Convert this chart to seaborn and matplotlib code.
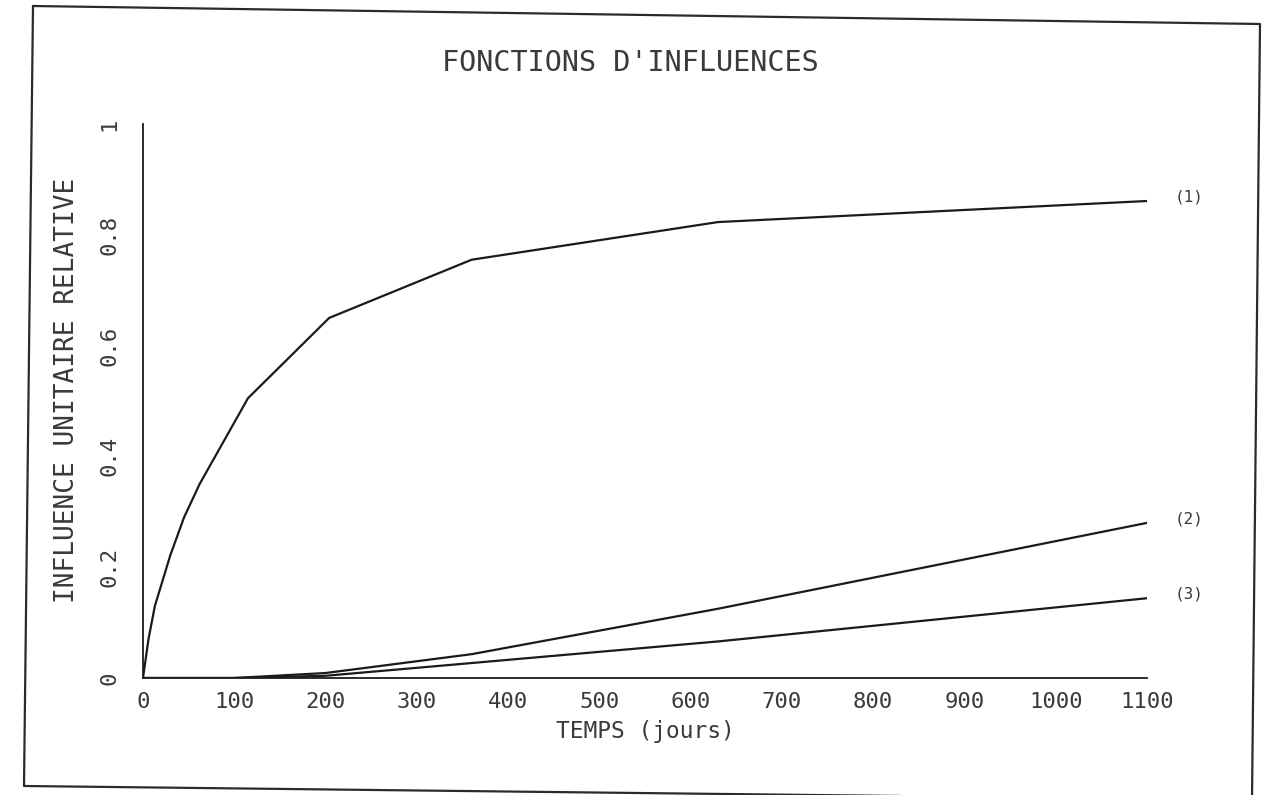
import numpy as np
import pandas as pd
import matplotlib
matplotlib.use("Agg")
import matplotlib.pyplot as plt
from matplotlib.lines import Line2D
import seaborn as sns

# Influence functions (relative unit influence vs. time in days)
jours_1 = [0, 6, 13, 30, 45, 62, 115, 204, 360, 630, 1100]
influence_1 = [0.0, 0.07, 0.13, 0.222, 0.29, 0.35, 0.505, 0.65, 0.755, 0.823, 0.861]

jours_2 = [0, 100, 200, 360, 630, 1100]
influence_2 = [0.0, 0.0, 0.009, 0.043, 0.125, 0.28]

jours_3 = [0, 100, 200, 360, 630, 1100]
influence_3 = [0.0, 0.0, 0.004, 0.027, 0.066, 0.144]

noms_courbes = ["(1)", "(2)", "(3)"]

x_ticks = [0, 100, 200, 300, 400, 500, 600, 700, 800, 900, 1000, 1100]
y_ticks = [0, 0.2, 0.4, 0.6, 0.8, 1]
y_tick_labels = ["0", "0.2", "0.4", "0.6", "0.8", "1"]

sns.set_theme(style="white")
plt.rcParams["font.family"] = ["DejaVu Sans Mono", "DejaVu Sans"]

W, H = 1262, 795
fig = plt.figure(figsize=(W / 100, H / 100), dpi=100)
fig.patch.set_facecolor("white")

ax_left, ax_right, ax_top, ax_bottom = 143, 1147, 124, 678
ax = fig.add_axes([ax_left / W, 1 - ax_bottom / H,
                   (ax_right - ax_left) / W, (ax_bottom - ax_top) / H])

df = pd.concat([
    pd.DataFrame({"jours": jours_1, "influence": influence_1, "courbe": noms_courbes[0]}),
    pd.DataFrame({"jours": jours_2, "influence": influence_2, "courbe": noms_courbes[1]}),
    pd.DataFrame({"jours": jours_3, "influence": influence_3, "courbe": noms_courbes[2]}),
])

ink = "#1a1a1a"
text_ink = "#3a3a3a"
for nom, grp in df.groupby("courbe", sort=False):
    sns.lineplot(data=grp, x="jours", y="influence", color=ink, linewidth=1.6,
                 ax=ax, legend=False, sort=False)
    ax.annotate(nom, xy=(grp["jours"].iloc[-1], grp["influence"].iloc[-1]),
                xytext=(20, 3), textcoords="offset points",
                ha="left", va="center", fontsize=11.5, color=text_ink)

ax.set_xlim(0, 1100)
ax.set_ylim(0, 1)
ax.set_xticks(x_ticks)
ax.set_xticklabels([str(v) for v in x_ticks])
ax.set_yticks(y_ticks)
ax.set_yticklabels(y_tick_labels, rotation=90, va="center")

for side in ["top", "right"]:
    ax.spines[side].set_visible(False)
for side in ["left", "bottom"]:
    ax.spines[side].set_color(ink)
    ax.spines[side].set_linewidth(1.3)

ax.tick_params(axis="both", direction="in", length=4, width=1.2, color=ink,
               labelsize=16, labelcolor=text_ink)
ax.tick_params(axis="x", pad=10)
ax.tick_params(axis="y", pad=17)
ax.set_facecolor("white")

ax.set_xlabel("TEMPS (jours)", fontsize=16.5, color=text_ink, labelpad=6)
ax.set_ylabel("INFLUENCE UNITAIRE RELATIVE", fontsize=18.8, color=text_ink, labelpad=0)
ax.yaxis.set_label_coords((80 - ax_left) / (ax_right - ax_left),
                          (ax_bottom - 390) / (ax_bottom - ax_top))

fig.text(630 / W, 1 - 63 / H, "FONCTIONS D'INFLUENCES", ha="center", va="center",
         fontsize=20.5, color=text_ink)

# Page frame around the plot
fx = np.array([33, 1260, 1252, 24, 33]) / W
fy = 1 - np.array([6, 24, 800, 786, 6]) / H
fig.add_artist(Line2D(fx, fy, transform=fig.transFigure, color="#2a2a2a", linewidth=1.6))

fig.savefig("out.png", dpi=100, facecolor="white")
